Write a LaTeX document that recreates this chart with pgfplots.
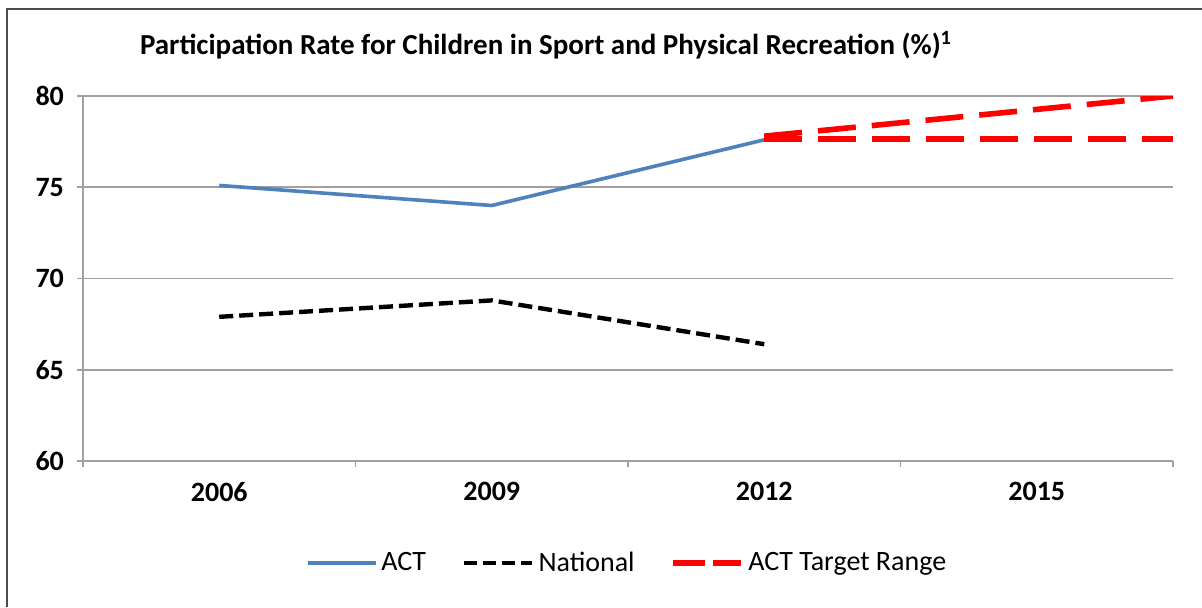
\documentclass[border=0pt]{standalone}
\usepackage{fontspec}
\setmainfont{Carlito}
\usepackage{pgfplots}
\pgfplotsset{compat=1.18}
\definecolor{actblue}{RGB}{79,129,189}
\definecolor{gridgray}{RGB}{160,160,160}
\begin{document}
\begin{tikzpicture}
\useasboundingbox (0,0) rectangle (601pt,303.5pt);
\fill[white] (0,0) rectangle (601pt,303.5pt);
\draw[gray!60!black, line width=1.4pt] (3.5pt,0) -- (3.5pt,299pt) -- (601pt,299pt);
\node[font=\bfseries\fontsize{14.5}{17}\selectfont] at (273pt,281pt)
  {Participation Rate for Children in Sport and Physical Recreation (\%)\textsuperscript{1}};
\begin{axis}[
    at={(41.5pt,73pt)}, anchor=south west,
    scale only axis, width=545pt, height=182.5pt,
    xmin=-0.5, xmax=3.5, ymin=60, ymax=80,
    xtick={-0.5,0.5,1.5,2.5,3.5},
    xticklabels={2006,2009,2012,2015},
    x tick label as interval,
    ytick={60,65,70,75,80},
    /pgf/number format/assume math mode=true,
    axis lines=left,
    axis line style={-, draw=gridgray, line width=0.9pt},
    tick style={draw=gridgray, line width=0.9pt},
    tick align=outside, major tick length=3pt,
    ymajorgrids, grid style={draw=gridgray, line width=0.9pt},
    ticklabel style={font=\bfseries\fontsize{14}{16}\selectfont},
    xticklabel style={yshift=-4pt},
    yticklabel style={xshift=-3pt},
    legend style={at={(0.5,-0.28)}, anchor=center, draw=none, fill=none,
      legend columns=3, font=\fontsize{14}{16}\selectfont,
      /tikz/every even column/.append style={column sep=16pt}},
    legend image code/.code={\draw[#1] (0pt,0pt) -- (34pt,0pt);},
  ]
  \addplot[forget plot, actblue, line width=1.8pt] coordinates {
    (0,75.1) (1,74.0) (2,77.6)
  };
  \addplot[forget plot, black, line width=2.2pt, dash pattern=on 7pt off 3pt] coordinates {
    (0,67.9) (1,68.8) (2,66.4)
  };
  \addplot[forget plot, red, line width=2.8pt, dash pattern=on 19pt off 8pt] coordinates {
    (2,77.8) (3.5,80.0)
  };
  \addplot[forget plot, red, line width=2.8pt, dash pattern=on 19pt off 8pt] coordinates {
    (2,77.65) (3.5,77.65)
  };
  \addlegendimage{actblue, line width=1.8pt}
  \addlegendentry{ACT}
  \addlegendimage{black, line width=2.2pt, dash pattern=on 6.5pt off 3pt}
  \addlegendentry{National}
  \addlegendimage{red, line width=2.8pt, dash pattern=on 16pt off 4pt}
  \addlegendentry{ACT Target Range}
\end{axis}
\end{tikzpicture}
\end{document}
